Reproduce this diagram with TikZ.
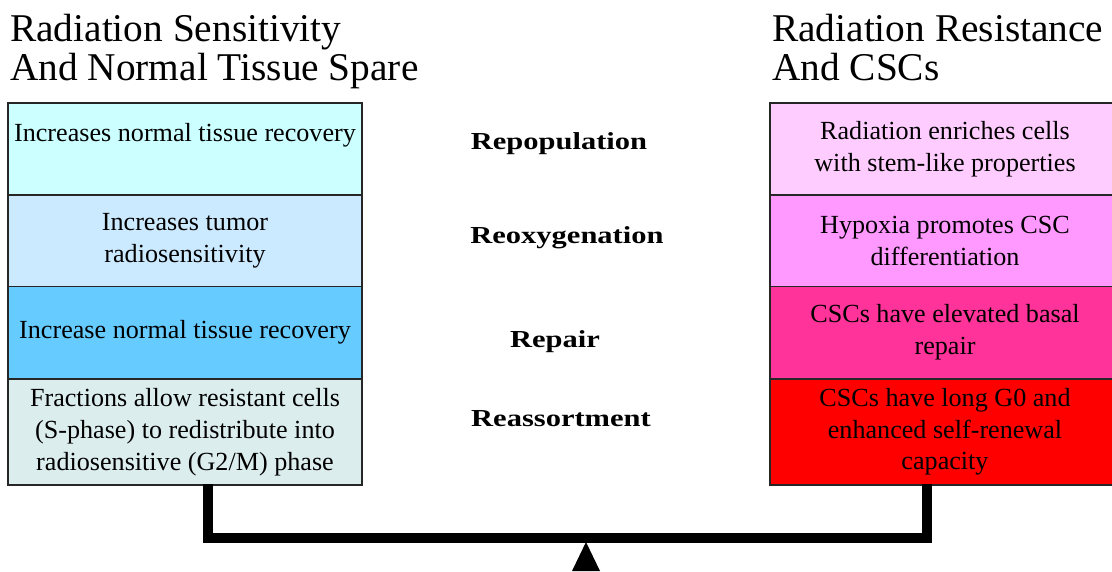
\documentclass[tikz,border=0pt]{standalone}
\usepackage{fontspec}
\setmainfont{Liberation Serif}
\newfontfamily\midfont[FakeStretch=1.25]{Liberation Serif}

% box fills, light to strong
\definecolor{sensA}{HTML}{CCFFFF}
\definecolor{sensB}{HTML}{CCEAFF}
\definecolor{sensC}{HTML}{66CCFF}
\definecolor{sensD}{HTML}{DCEDEE}
\definecolor{resA}{HTML}{FFCCFF}
\definecolor{resB}{HTML}{FF99FF}
\definecolor{resC}{HTML}{FF3399}
\definecolor{resD}{HTML}{FF0000}

\begin{document}
\begin{tikzpicture}[x=0.75pt,y=-0.75pt,
    box/.style={draw=black!85, line width=1.3pt, align=center, inner sep=0pt,
      minimum height=69pt, font=\fontsize{19.6}{23.8}\selectfont},
    lbox/.style={box, minimum width=265.5pt},
    rbox/.style={box, minimum width=262.5pt},
    heading/.style={anchor=north west, align=left, inner sep=0pt,
      font=\fontsize{29.5}{29.5}\selectfont},
    rlabel/.style={font=\midfont\bfseries\fontsize{18.3}{22}\selectfont},
    beam/.style={line width=7.5pt, line join=miter}]
  \useasboundingbox (0,0) rectangle (1112,571);

  \node[heading] (Lhead) at (10,14){Radiation Sensitivity\\And Normal Tissue Spare};
  \node[heading] (Rhead) at (772,14){Radiation Resistance\\And CSCs};

  \node[lbox, fill=sensA] (L1) at (185,149){Increases normal tissue recovery\\[1pt] \mbox{}};
  \node[lbox, fill=sensB] (L2) at (185,241){Increases tumor\\radiosensitivity};
  \node[lbox, fill=sensC] (L3) at (185,332.5){Increase normal tissue recovery};
  \node[lbox, fill=sensD, minimum height=79.5pt] (L4) at (185,432){Fractions allow resistant cells\\(S-phase) to redistribute into\\radiosensitive (G2/M) phase};

  \node[rbox, fill=resA] (R1) at (945,149){Radiation enriches cells\\with stem-like properties};
  \node[rbox, fill=resB] (R2) at (945,241){Hypoxia promotes CSC\\differentiation};
  \node[rbox, fill=resC] (R3) at (945,332.5){CSCs have elevated basal\\repair};
  \node[rbox, fill=resD, minimum height=79.5pt] (R4) at (945,432){CSCs have long G0 and\\enhanced self-renewal\\capacity};

  \node[rlabel] (repop) at (559,144){Repopulation};
  \node[rlabel] (reoxy) at (567,238){Reoxygenation};
  \node[rlabel] (repair) at (555,342){Repair};
  \node[rlabel] (reass) at (561,419){Reassortment};

  % the balance
  \coordinate (lfoot) at (208,484);
  \coordinate (rfoot) at (927,484);
  \coordinate (pivot) at (586,538);
  \draw[beam] (lfoot) |- (pivot) -| (rfoot);
  \fill (pivot) ++(0,4) -- (572,571) -- (600,571) -- cycle;
\end{tikzpicture}
\end{document}
